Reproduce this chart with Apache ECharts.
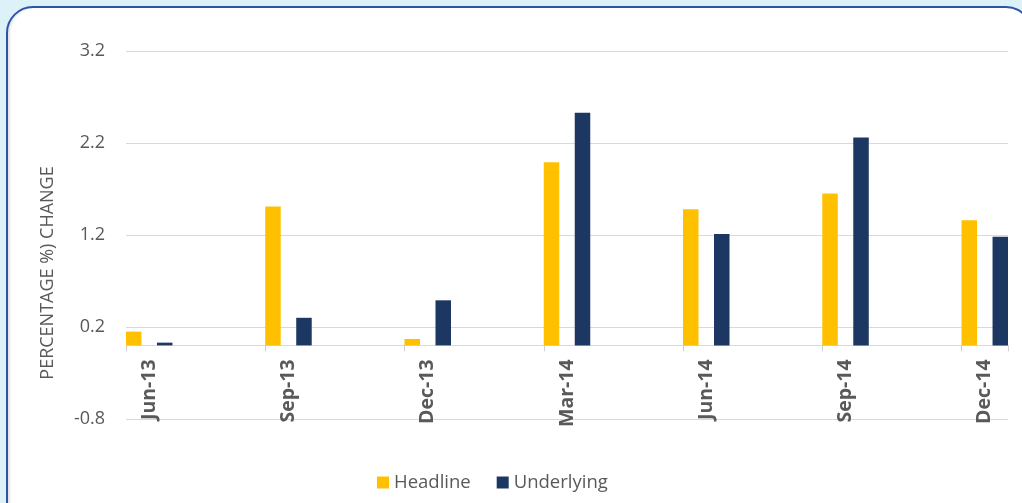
<!DOCTYPE html>
<html>
<head>
<meta charset="utf-8">
<title>Headline and underlying change</title>
<script src="https://cdn.jsdelivr.net/npm/echarts@6/dist/echarts.min.js"></script>
<style>
  html, body { margin: 0; padding: 0; width: 1022px; height: 503px; overflow: hidden; background: #ddf1f9; }
  #card {
    position: absolute; left: 6px; top: 6px; width: 1023px; height: 540px;
    background: #ffffff; border: 2px solid #2d55a3; border-radius: 27px;
    box-shadow: inset 3px 0 2px -1px #e4e4e4;
  }
  #chart { position: absolute; left: 0; top: 0; width: 1022px; height: 503px; }
</style>
</head>
<body>
<div id="card"></div>
<div id="chart"></div>
<script>
// Monthly slots of the time axis; bars sit on the quarter months only
const months = ['Jun-13','Jul-13','Aug-13','Sep-13','Oct-13','Nov-13','Dec-13','Jan-14','Feb-14',
                'Mar-14','Apr-14','May-14','Jun-14','Jul-14','Aug-14','Sep-14','Oct-14','Nov-14','Dec-14'];
const quarters = ['Jun-13','Sep-13','Dec-13','Mar-14','Jun-14','Sep-14','Dec-14'];
const headline = [0.15, 1.51, 0.07, 1.99, 1.48, 1.65, 1.36];
const underlying = [0.03, 0.30, 0.49, 2.53, 1.21, 2.26, 1.18];
const yTicks = [-0.8, 0.2, 1.2, 2.2, 3.2];

function toMonthly(values) {
  return months.map(m => {
    const i = quarters.indexOf(m);
    return i >= 0 ? values[i] : null;
  });
}

const font = "'Open Sans', 'Noto Sans', sans-serif";
const grey = '#595959';

const gridTop = 51, gridBottom = 84, chartH = 503;
const yMin = yTicks[0], yMax = yTicks[yTicks.length - 1];
// Category axis sits on the zero line: shift it up from the plot bottom
const plotH = chartH - gridTop - gridBottom;
const zeroShift = -plotH * (0 - yMin) / (yMax - yMin);

const chart = echarts.init(document.getElementById('chart'), null, { renderer: 'canvas' });
chart.setOption({
  backgroundColor: 'transparent',
  animation: false,
  textStyle: { fontFamily: font },
  grid: { left: 126, right: 14, top: gridTop, bottom: gridBottom, containLabel: false },
  legend: {
    left: 372, top: 468,
    itemWidth: 12, itemHeight: 12, itemGap: 26,
    icon: 'rect',
    textStyle: { color: grey, fontSize: 18.5, fontFamily: font },
    data: ['Headline', 'Underlying']
  },
  xAxis: {
    type: 'category',
    data: months,
    boundaryGap: true,
    offset: zeroShift,
    axisLine: { onZero: false, lineStyle: { color: '#d9d9d9', width: 1 } },
    axisTick: { show: true, interval: 2, length: 6, alignWithLabel: false, lineStyle: { color: '#d0d0d0' } },
    axisLabel: {
      interval: 2, rotate: 90, margin: 14,
      color: grey, fontSize: 19.5, fontWeight: 'bold', fontFamily: font
    },
    splitLine: { show: false }
  },
  yAxis: {
    type: 'value',
    min: yMin, max: yMax, interval: 1,
    axisLine: { show: false },
    axisTick: { show: false },
    axisLabel: { color: grey, fontSize: 18, margin: 21, fontFamily: font,
                 formatter: v => v.toFixed(1) },
    splitLine: { lineStyle: { color: '#d9d9d9', width: 1 } }
  },
  graphic: [{
    type: 'text',
    x: 48, y: 273, rotation: Math.PI / 2,
    style: {
      text: 'PERCENTAGE %) CHANGE',
      fill: grey, font: "18px 'Open Sans', 'Noto Sans', sans-serif",
      textAlign: 'center', textVerticalAlign: 'middle'
    }
  }],
  series: [
    { name: 'Headline', type: 'bar', data: toMonthly(headline),
      barWidth: 15.5, barGap: '100%', itemStyle: { color: '#ffc000' } },
    { name: 'Underlying', type: 'bar', data: toMonthly(underlying),
      barWidth: 15.5, barGap: '100%', itemStyle: { color: '#1c3762' } }
  ]
});
</script>
</body>
</html>
